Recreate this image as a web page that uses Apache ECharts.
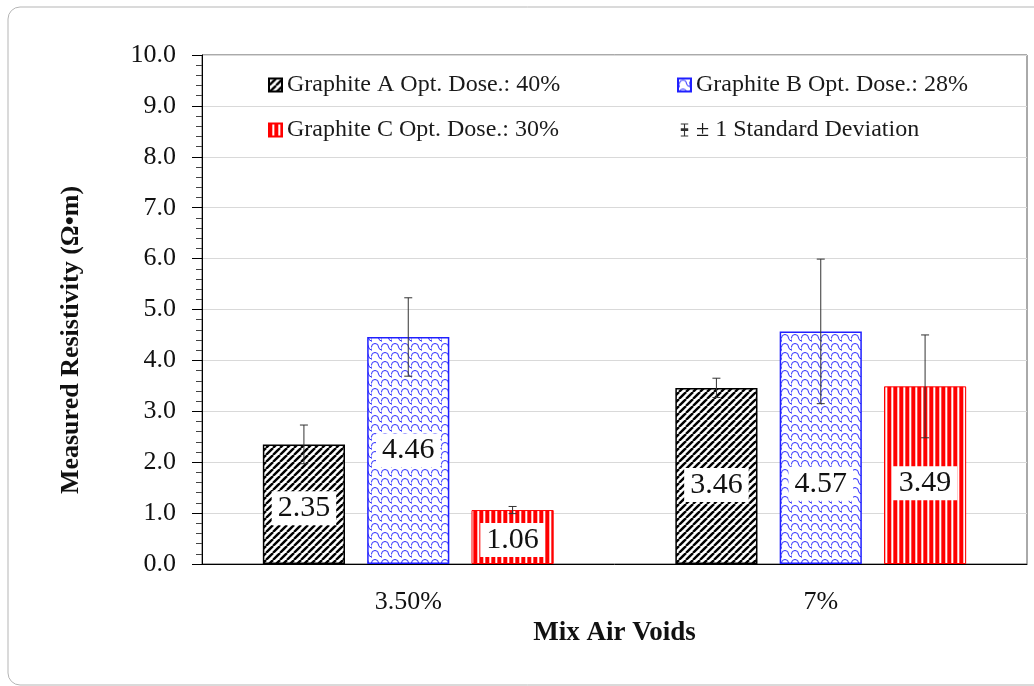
<!DOCTYPE html>
<html>
<head>
<meta charset="utf-8">
<script src="https://cdn.jsdelivr.net/npm/echarts@6/dist/echarts.min.js"></script>
<style>
html,body{margin:0;padding:0;background:#fff;}
#chart{width:1034px;height:686px;}
</style>
</head>
<body>
<div id="chart"></div>
<script>
// ---- data ----
const categories = ['3.50%', '7%'];
const seriesNames = ['Graphite A Opt. Dose.: 40%', 'Graphite B Opt. Dose.: 28%', 'Graphite C Opt. Dose.: 30%'];
const sdName = '± 1 Standard Deviation';
const graphiteA = [2.35, 3.46];
const graphiteB = [4.46, 4.57];
const graphiteC = [1.06, 3.49];
const sdA = [0.38, 0.19];
const sdB = [0.77, 1.42];
const sdC = [0.07, 1.01];
const yMin = 0, yMax = 10, yInterval = 1;
const yTitle = 'Measured Resistivity (Ω•m)';
const xTitle = 'Mix Air Voids';

// ---- patterns ----
function hatchA() {
  const c = document.createElement('canvas'); c.width = 7; c.height = 7;
  const g = c.getContext('2d');
  g.fillStyle = '#fff'; g.fillRect(0, 0, 7, 7);
  g.strokeStyle = '#000'; g.lineWidth = 2.4;
  for (const o of [-7, 0, 7]) { g.beginPath(); g.moveTo(o, 7); g.lineTo(o + 7, 0); g.stroke(); }
  return c;
}
function waveB() {
  const c = document.createElement('canvas'); c.width = 10; c.height = 9;
  const g = c.getContext('2d');
  g.fillStyle = '#fff'; g.fillRect(0, 0, 10, 9);
  g.strokeStyle = '#2b2bff'; g.lineWidth = 1;
  g.beginPath(); g.arc(5, 5, 3.5, Math.PI, 2 * Math.PI); g.stroke();
  g.beginPath(); g.moveTo(8.5, 5); g.quadraticCurveTo(9, 8, 12, 8); g.stroke();
  g.beginPath(); g.moveTo(-1.5, 5); g.quadraticCurveTo(-1, 8, 2, 8); g.stroke();
  g.strokeStyle = 'rgba(80,80,255,0.5)';
  g.beginPath(); g.moveTo(1.5, 5); g.lineTo(1.5, 9); g.stroke();
  return c;
}
function stripeC() {
  const c = document.createElement('canvas'); c.width = 6; c.height = 4;
  const g = c.getContext('2d');
  g.fillStyle = '#ff0000'; g.fillRect(0, 0, 3, 4);
  g.fillStyle = '#ffb0b0'; g.fillRect(3, 0, 1, 4);
  g.fillStyle = '#ffffff'; g.fillRect(4, 0, 1, 4);
  g.fillStyle = '#ff5050'; g.fillRect(5, 0, 1, 4);
  return c;
}

const catGap = 0.295, barGapR = 0.27;
const serif = 'Liberation Serif, Times New Roman, serif';

const labelBase = {
  show: true, position: 'inside',
  formatter: p => p.value.toFixed(2),
  backgroundColor: '#fff', padding: [3, 6, 1, 6],
  fontSize: 30, fontFamily: serif, color: '#111'
};
function barData(vals, shifts) {
  return vals.map((v, i) => ({ value: v, label: { offset: [0, shifts[i]] } }));
}

const sdData = [];
[sdA, sdB, sdC].forEach((arr, si) => {
  const vals = [graphiteA, graphiteB, graphiteC][si];
  arr.forEach((sd, ci) => sdData.push([ci, si, vals[ci], sd]));
});

const chart = echarts.init(document.getElementById('chart'), null, { renderer: 'canvas' });
const legendText = { fontSize: 24, fontFamily: serif, color: '#1a1a1a' };
const option = {
  animation: false,
  backgroundColor: '#fff',
  textStyle: { fontFamily: serif },
  grid: { left: 202, right: 7, top: 55, bottom: 122, show: true, borderColor: '#555', borderWidth: 1 },
  legend: [
    {
      data: [{ name: seriesNames[0], icon: 'rect' }, { name: seriesNames[2], icon: 'rect' }],
      orient: 'vertical', left: 263, top: 68, itemGap: 21, itemWidth: 13, itemHeight: 13,
      textStyle: legendText, selectedMode: false
    },
    {
      data: [{ name: seriesNames[1], icon: 'rect' }, { name: sdName, icon: 'path://M4,0 L12,0 L12,1 L8.6,1 L8.6,5 L12,5 L12,8 L8.6,8 L8.6,13 L12,13 L12,14 L4,14 L4,13 L7.4,13 L7.4,8 L4,8 L4,5 L7.4,5 L7.4,1 L4,1 Z' }],
      orient: 'vertical', left: 672, top: 68, itemGap: 21, itemWidth: 13, itemHeight: 13,
      textStyle: legendText, selectedMode: false
    }
  ],
  xAxis: {
    type: 'category', data: categories,
    name: xTitle, nameLocation: 'middle', nameGap: 43,
    nameTextStyle: { fontSize: 27, fontWeight: 'bold', fontFamily: serif, color: '#111' },
    axisLine: { lineStyle: { color: '#000', width: 1 } },
    axisTick: { show: false },
    axisLabel: { fontSize: 26, fontFamily: serif, color: '#111', margin: 25 }
  },
  yAxis: {
    type: 'value', min: yMin, max: yMax, interval: yInterval,
    axisLine: { show: true, lineStyle: { color: '#000', width: 1 } },
    axisTick: { show: true, length: 10, lineStyle: { color: '#000' } },
    minorTick: { show: true, splitNumber: 5, length: 6, lineStyle: { color: '#444' } },
    axisLabel: { fontSize: 26, fontFamily: serif, color: '#111', margin: 26, formatter: v => v.toFixed(1) },
    splitLine: { show: true, lineStyle: { color: '#d9d9d9', width: 1.2 } }
  },
  series: [
    {
      name: seriesNames[0], type: 'bar', barCategoryGap: (catGap * 100) + '%', barGap: (barGapR * 100) + '%',
      data: barData(graphiteA, [4, 9]),
      itemStyle: { color: { image: hatchA(), repeat: 'repeat' }, borderColor: '#000', borderWidth: 1.5 },
      label: labelBase
    },
    {
      name: seriesNames[1], type: 'bar', barGap: (barGapR * 100) + '%',
      data: barData(graphiteB, [0, 36]),
      itemStyle: { color: { image: waveB(), repeat: 'repeat' }, borderColor: '#2020ff', borderWidth: 1.5 },
      label: labelBase
    },
    {
      name: seriesNames[2], type: 'bar', barGap: (barGapR * 100) + '%',
      data: barData(graphiteC, [3, 8]),
      itemStyle: { color: { image: stripeC(), repeat: 'repeat' }, borderColor: '#ff0000', borderWidth: 1 },
      label: labelBase
    },
    {
      name: sdName, type: 'custom', z: 5,
      itemStyle: { color: '#333' },
      data: sdData,
      renderItem: function (params, api) {
        const cat = api.value(0), idx = api.value(1), val = api.value(2), sd = api.value(3);
        const band = api.size([1, 0])[0];
        const bw = band * (1 - catGap) / (3 + 2 * barGapR);
        const cx = api.coord([cat, 0])[0] + (idx - 1) * bw * (1 + barGapR);
        const top = api.coord([cat, val + sd])[1];
        const bot = api.coord([cat, val - sd])[1];
        const cap = 4;
        const st = { stroke: '#333', lineWidth: 1 };
        return {
          type: 'group', children: [
            { type: 'line', shape: { x1: cx, y1: top, x2: cx, y2: bot }, style: st },
            { type: 'line', shape: { x1: cx - cap, y1: top, x2: cx + cap, y2: top }, style: st },
            { type: 'line', shape: { x1: cx - cap, y1: bot, x2: cx + cap, y2: bot }, style: st }
          ]
        };
      }
    }
  ],
  graphic: [
    {
      type: 'rect', z: -10, silent: true,
      shape: { x: 8, y: 7, width: 1040, height: 678, r: 12 },
      style: { fill: null, stroke: '#b5b5b5', lineWidth: 1 }
    },
    {
      type: 'text', x: 71, y: 340, rotation: Math.PI / 2, silent: true,
      style: { text: yTitle, fontSize: 26, fontWeight: 'bold', fontFamily: serif, fill: '#111', align: 'center', verticalAlign: 'middle' }
    }
  ]
};
chart.setOption(option);
</script>
</body>
</html>
